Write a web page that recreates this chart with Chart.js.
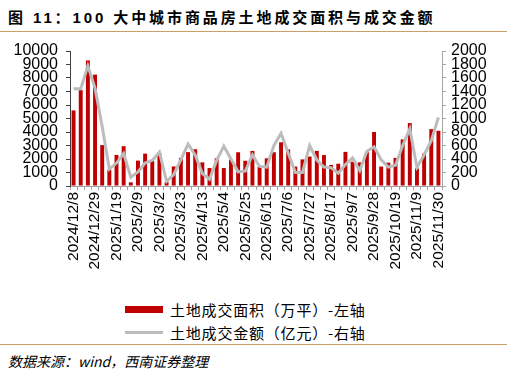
<!DOCTYPE html>
<html>
<head>
  <meta charset="utf-8">
  <title>100大中城市商品房土地成交面积与成交金额</title>
  <script src="https://cdn.jsdelivr.net/npm/chart.js@4/dist/chart.umd.min.js"></script>
  <style>
    body { margin: 0; width: 507px; height: 378px; background: #fff; position: relative; overflow: hidden;
           font-family: "Liberation Sans", "Noto Sans CJK SC", sans-serif; }
    #title { position: absolute; left: 8px; top: 6px; font-size: 15px; font-weight: bold; letter-spacing: 2.9px;
             font-family: "Liberation Sans", "Noto Sans CJK SC", sans-serif; color: #000; white-space: nowrap; }
    .rule { position: absolute; left: 0; width: 507px; height: 1px; background: #c9a068; }
    #box { position: absolute; left: 0; top: 35px; width: 507px; height: 250px; }
    #legend { position: absolute; left: 125px; top: 298px; font-size: 15px; letter-spacing: 0.8px;
              font-family: "Noto Sans CJK SC", sans-serif; color: #000; }
    #legend div { height: 23px; display: flex; align-items: center; }
    #legend span.sw { display: inline-block; width: 38px; margin-right: 7px; }
    #source { position: absolute; left: 8px; top: 351px; font-size: 14px; font-style: italic;
              font-family: "Noto Sans CJK SC", sans-serif; color: #000; white-space: nowrap; }
  </style>
</head>
<body>
  <div id="title">图 11：100 大中城市商品房土地成交面积与成交金额</div>
  <div class="rule" style="top:31px"></div>
  <div id="box"><canvas id="landChart"></canvas></div>
  <div id="legend"></div>
  <div class="rule" style="top:344px"></div>
  <div id="source">数据来源：wind，西南证券整理</div>

  <script>
    // weekly dates, 2024/12/8 .. 2025/11/30
    const weeks = [
      '2024/12/8','2024/12/15','2024/12/22','2024/12/29','2025/1/5','2025/1/12','2025/1/19','2025/1/26',
      '2025/2/2','2025/2/9','2025/2/16','2025/2/23','2025/3/2','2025/3/9','2025/3/16','2025/3/23',
      '2025/3/30','2025/4/6','2025/4/13','2025/4/20','2025/4/27','2025/5/4','2025/5/11','2025/5/18',
      '2025/5/25','2025/6/1','2025/6/8','2025/6/15','2025/6/22','2025/6/29','2025/7/6','2025/7/13',
      '2025/7/20','2025/7/27','2025/8/3','2025/8/10','2025/8/17','2025/8/24','2025/8/31','2025/9/7',
      '2025/9/14','2025/9/21','2025/9/28','2025/10/5','2025/10/12','2025/10/19','2025/10/26','2025/11/2',
      '2025/11/9','2025/11/16','2025/11/23','2025/11/30'
    ];

    // 土地成交面积（万平）
    const areaValues = [
      5600, 7100, 9300, 8250, 3030, 1200, 2300, 2950, 270, 1880, 2400, 1850, 2450,
      290, 1450, 2080, 2510, 2720, 1750, 1330, 2050, 1330, 1960, 2500, 1870, 2600,
      1430, 2050, 2500, 3240, 2710, 1440, 1970, 2180, 2600, 2290, 1560, 1650, 2530,
      1800, 1750, 2500, 4000, 1440, 1730, 2080, 3450, 4660, 1300, 2390, 4210, 4090
    ];

    // 土地成交金额（亿元）
    const amountValues = [
      1440, 1440, 1780, 1450, 880, 250, 340, 480, 130, 210, 340, 380, 500,
      70, 170, 390, 620, 460, 185, 100, 380, 590, 400, 210, 220, 460,
      290, 280, 600, 780, 490, 200, 200, 600, 385, 280, 270, 190, 317,
      415, 230, 515, 580, 388, 279, 307, 600, 846, 279, 459, 671, 1017
    ];

    const areaName = '土地成交面积（万平）-左轴';
    const amountName = '土地成交金额（亿元）-右轴';

    const tickFont = { family: 'Liberation Sans', size: 16, lineHeight: 1 };
    const plain = v => String(v);

    const ctx = document.getElementById('landChart').getContext('2d');
    const landChart = new Chart(ctx, {
      data: {
        labels: weeks,
        datasets: [
          {
            type: 'line',
            label: amountName,
            data: amountValues,
            yAxisID: 'y1',
            borderColor: '#bcbcbc',
            borderWidth: 3,
            pointRadius: 0,
            tension: 0,
            order: 0
          },
          {
            type: 'bar',
            label: areaName,
            data: areaValues,
            yAxisID: 'y',
            backgroundColor: '#c00000',
            barPercentage: 0.55,
            categoryPercentage: 1,
            order: 1
          }
        ]
      },
      options: {
        responsive: true,
        maintainAspectRatio: false,
        animation: false,
        layout: { padding: { top: 10, left: 0, right: 0, bottom: 0 } },
        plugins: { legend: { display: false }, tooltip: { enabled: false } },
        scales: {
          x: {
            grid: { display: true, drawOnChartArea: false, tickLength: 4, color: '#a0a0a0', offset: true },
            border: { color: '#a0a0a0' },
            ticks: {
              autoSkip: false, maxRotation: 90, minRotation: 90, padding: 2,
              font: { family: 'Liberation Sans', size: 15.5 }, color: '#000',
              callback: function (val, i) { return i % 3 === 0 ? this.getLabelForValue(val) : ''; }
            },
            afterFit: s => { s.height = 99; }
          },
          y: {
            position: 'left', min: 0, max: 10000,
            grid: { display: true, drawOnChartArea: false, tickLength: 4, color: '#404040' },
            border: { color: '#404040' },
            ticks: { stepSize: 1000, autoSkip: false, font: tickFont, color: '#000', padding: 8, callback: plain },
            afterFit: s => { s.width = 70; }
          },
          y1: {
            position: 'right', min: 0, max: 2000,
            grid: { display: true, drawOnChartArea: false, tickLength: 4, color: '#a6a6a6' },
            border: { color: '#a6a6a6' },
            ticks: { stepSize: 200, autoSkip: false, font: tickFont, color: '#000', padding: 5, callback: plain },
            afterFit: s => { s.width = 65; }
          }
        }
      }
    });

    // legend built from the chart datasets
    const legend = document.getElementById('legend');
    [1, 0].forEach(i => {
      const ds = landChart.data.datasets[i];
      const row = document.createElement('div');
      const sw = document.createElement('span');
      sw.className = 'sw';
      if (ds.type === 'bar') { sw.style.height = '7px'; sw.style.background = ds.backgroundColor; }
      else { sw.style.height = '3px'; sw.style.background = ds.borderColor; }
      row.appendChild(sw);
      row.appendChild(document.createTextNode(ds.label));
      legend.appendChild(row);
    });
  </script>
</body>
</html>
